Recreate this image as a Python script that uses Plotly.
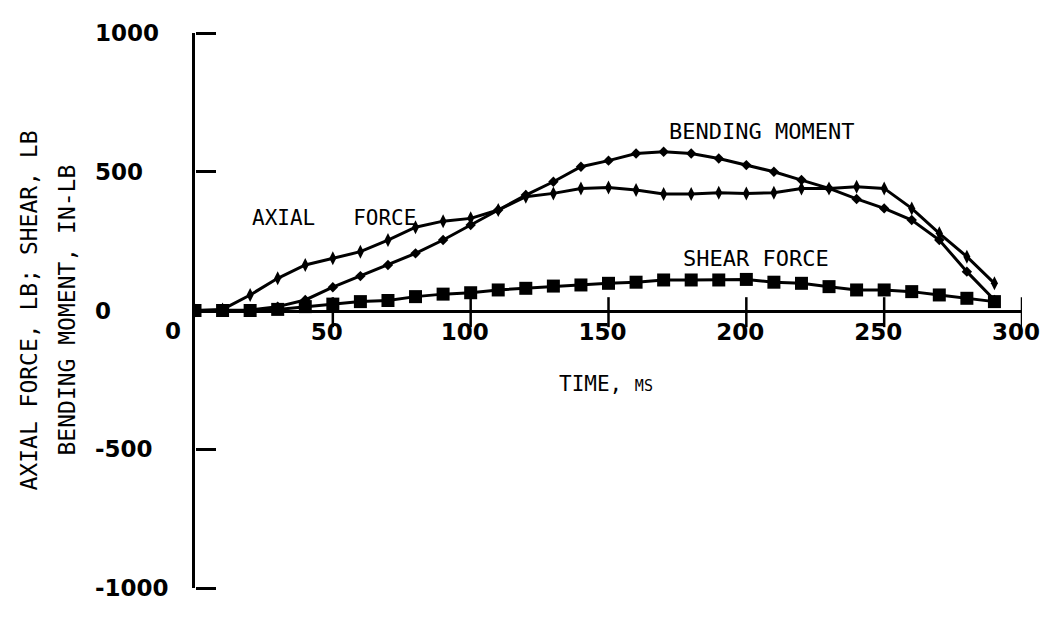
import plotly.graph_objects as go

# Time histories of member forces
time_ms = [0, 10, 20, 30, 40, 50, 60, 70, 80, 90, 100, 110, 120, 130, 140,
           150, 160, 170, 180, 190, 200, 210, 220, 230, 240, 250, 260, 270, 280, 290]

axial_force = [0, 4, 56, 116, 164, 188, 212, 254, 300, 322, 332, 362, 410, 422, 440,
               443, 434, 420, 420, 424, 422, 424, 440, 440, 446, 440, 368, 278, 194, 98]

bending_moment = [0, 0, 2, 14, 38, 84, 124, 164, 206, 254, 308, 362, 416, 464, 518,
                  540, 566, 572, 566, 548, 524, 500, 470, 440, 402, 368, 326, 254, 140, 38]

shear_force = [0, 0, 0, 4, 14, 23, 32, 36, 50, 59, 64, 74, 80, 88, 92,
               98, 102, 110, 110, 110, 112, 102, 98, 86, 74, 74, 68, 56, 44, 32]

x_ticks = [50, 100, 150, 200, 250, 300]
x_tick_text = ["50", "100", "150", "200", "250", "300"]
y_ticks = [-1000, -500, 0, 500, 1000]
y_tick_text = ["-1000", "-500", "0", "500", "1000"]

X_RANGE = [0, 300]
Y_RANGE = [-1000, 1000]

# reach of the time-axis tick strokes above / below y = 0, in force units
TICK_UP = 48
TICK_DOWN = 60

MONO = "DejaVu Sans Mono"
TICK_FONT = dict(family="DejaVu Sans", size=23, color="black", weight="bold")

fig = go.Figure()

fig.add_trace(go.Scatter(
    x=time_ms, y=shear_force, mode="lines+markers", name="Shear force",
    line=dict(color="black", width=3),
    marker=dict(symbol="square", size=13, color="black"),
))
fig.add_trace(go.Scatter(
    x=time_ms, y=bending_moment, mode="lines+markers", name="Bending moment",
    line=dict(color="black", width=3),
    marker=dict(symbol="diamond", size=8, color="black"),
))
fig.add_trace(go.Scatter(
    x=time_ms, y=axial_force, mode="lines+markers", name="Axial force",
    line=dict(color="black", width=3),
    marker=dict(symbol="diamond-tall", size=10, color="black"),
))

# tick strokes across the time axis, one segment per tick value
tick_x, tick_y = [], []
for t in x_ticks:
    tick_x += [t, t, None]
    tick_y += [-TICK_DOWN, TICK_UP, None]
fig.add_trace(go.Scatter(
    x=tick_x, y=tick_y, mode="lines", line=dict(color="black", width=2.5),
    cliponaxis=False, showlegend=False, hoverinfo="skip",
))

# empty trace that carries the force-axis tick marks
fig.add_trace(go.Scatter(x=[], y=[], xaxis="x", yaxis="y2",
                         showlegend=False, hoverinfo="skip"))

annotations = [
    dict(x=50.6, y=333, xref="x", yref="y", text="AXIAL   FORCE", showarrow=False,
         font=dict(family=MONO, size=21, color="black")),
    dict(x=205.5, y=645, xref="x", yref="y", text="BENDING MOMENT", showarrow=False,
         font=dict(family=MONO, size=22, color="black")),
    dict(x=203.5, y=189, xref="x", yref="y", text="SHEAR FORCE", showarrow=False,
         font=dict(family=MONO, size=22, color="black")),
    dict(x=149, y=-265, xref="x", yref="y",
         text="TIME, <span style='font-size:15px'>MS</span>", showarrow=False,
         font=dict(family=MONO, size=21, color="black")),
    # x origin label
    dict(x=0, y=0, xref="x", yref="y", text="0", showarrow=False,
         xshift=-22, yshift=-20, font=TICK_FONT),
    # y-axis title, two lines
    dict(x=0, y=0.5, xref="paper", yref="paper", text="AXIAL FORCE, LB; SHEAR, LB",
         textangle=-90, showarrow=False, xanchor="center", yanchor="middle",
         xshift=-167, font=dict(family=MONO, size=23, color="black")),
    dict(x=0, y=0.5, xref="paper", yref="paper", text="BENDING MOMENT, IN-LB",
         textangle=-90, showarrow=False, xanchor="center", yanchor="middle",
         xshift=-129, font=dict(family=MONO, size=23, color="black")),
]

# y tick labels, left-aligned in a column
for val, txt in zip(y_ticks, y_tick_text):
    annotations.append(dict(
        x=0, y=val, xref="paper", yref="y", text=txt, showarrow=False,
        xanchor="left", yanchor="middle", xshift=-102, font=TICK_FONT,
    ))

fig.update_layout(
    width=1052, height=620,
    margin=dict(l=195, r=27, t=33, b=32),
    paper_bgcolor="white", plot_bgcolor="rgba(0,0,0,0)",
    showlegend=False,
    annotations=annotations,
    # horizontal time axis through y = 0, labels below
    xaxis=dict(
        range=X_RANGE, anchor="free", position=0.5,
        showline=True, linecolor="black", linewidth=2.5,
        ticks="", tickvals=x_ticks, ticktext=x_tick_text, tickfont=TICK_FONT,
        ticklabelshift=-6,
        showgrid=False, zeroline=False,
    ),
    yaxis=dict(
        range=Y_RANGE,
        showline=True, linecolor="black", linewidth=3,
        ticks="", tickvals=y_ticks, showticklabels=False,
        showgrid=False, zeroline=False,
    ),
    # tick marks of the force axis, pointing right
    yaxis2=dict(
        range=Y_RANGE, overlaying="y", side="right", anchor="free", position=0,
        showline=False, ticks="outside", ticklen=20, tickwidth=2.5, tickcolor="black",
        tickvals=y_ticks, showticklabels=False,
        showgrid=False, zeroline=False,
    ),
)

fig.write_html("out.html")
